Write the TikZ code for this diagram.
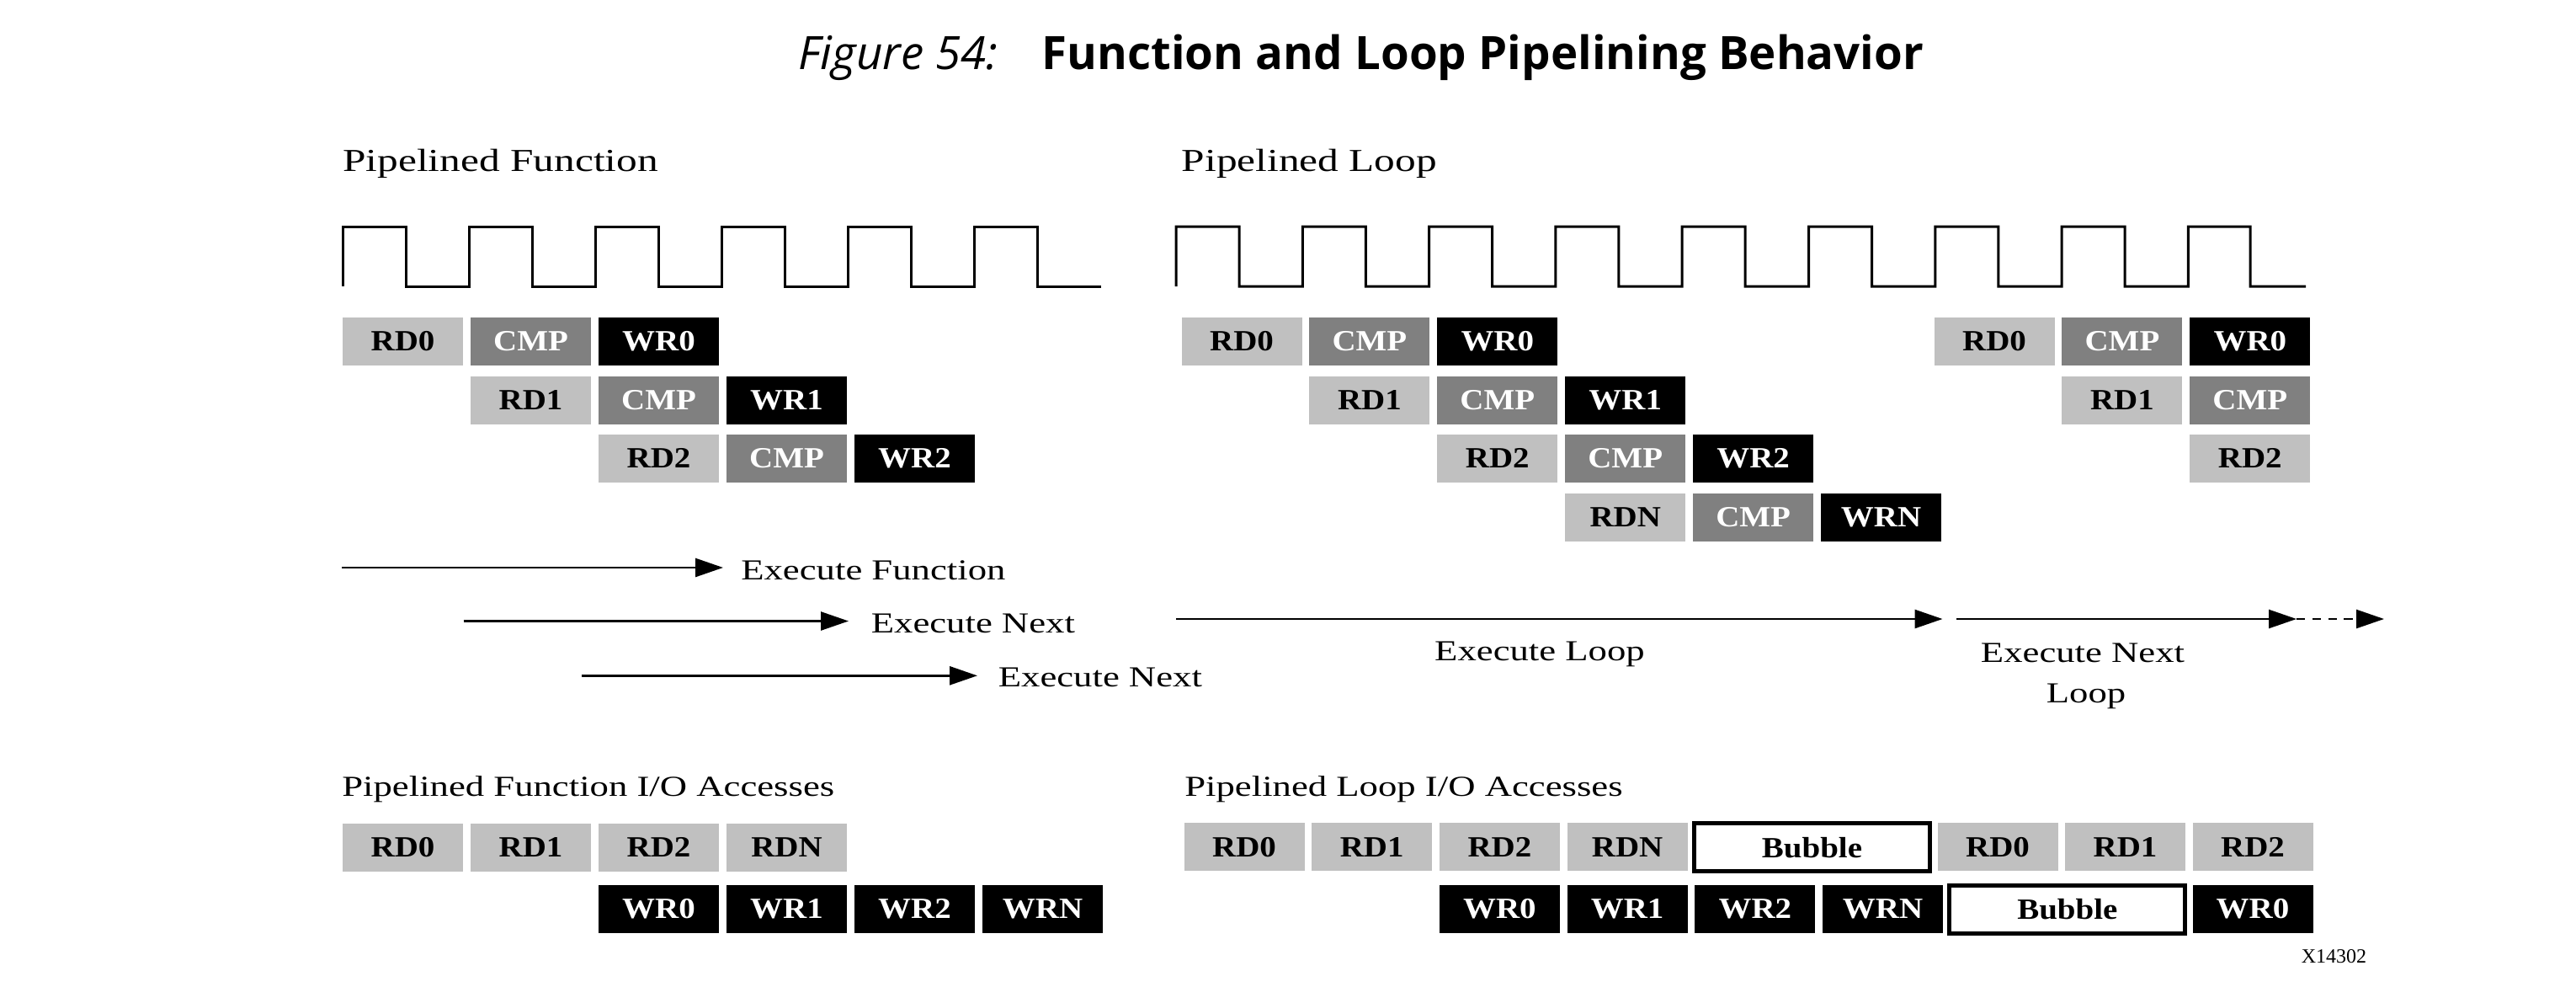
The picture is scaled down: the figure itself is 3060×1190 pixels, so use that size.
\documentclass[tikz,border=0pt]{standalone}
\usepackage{fontspec}
\setmainfont{Liberation Serif}
\newfontfamily\regf[FakeStretch=1.3]{Liberation Serif}
\newfontfamily\lblf[FakeStretch=1.12]{Liberation Serif}
\newfontfamily\plainf{Liberation Serif}
\newfontfamily\ttlf{Open Sans}
\usetikzlibrary{arrows.meta}
\definecolor{lgray}{HTML}{C0C0C0}
\definecolor{mgray}{HTML}{808080}
\begin{document}
\begin{tikzpicture}[x=0.25pt,y=-0.25pt,
  cell/.style={minimum width=35.75pt,minimum height=14.25pt,inner sep=0pt,outer sep=0pt,font=\lblf\bfseries\fontsize{8.7}{10}\selectfont},
  rdbox/.style={cell,fill=lgray,text=black},
  cmpbox/.style={cell,fill=mgray,text=white},
  wrbox/.style={cell,fill=black,text=white},
  bubbox/.style={cell,draw=black,line width=1.25pt,fill=white,minimum width=70pt,minimum height=14.125pt},
  head/.style={anchor=base west,inner sep=0pt,font=\regf\fontsize{9.5}{11}\selectfont},
  subhead/.style={anchor=base west,inner sep=0pt,font=\regf\fontsize{8.6}{10}\selectfont},
  lbl/.style={inner sep=0pt,font=\regf\fontsize{8.6}{10}\selectfont},
  clk/.style={line width=0.75pt,line join=miter},
  arr/.style={line width=0.65pt,-{Triangle[length=8.25pt,width=5.5pt]}},
  dasharr/.style={arr,dash pattern=on 2.6pt off 2.1pt},
]
\useasboundingbox (0,0) rectangle (3060,1190);

% title
\node[anchor=base west,inner sep=0pt,font=\ttlf\itshape\fontsize{13.65}{16}\selectfont] (fig) at (948,82) {Figure 54:};
\node[anchor=base west,inner sep=0pt,font=\ttlf\bfseries\fontsize{13.65}{16}\selectfont] (ttl) at (1237,82) {Function and Loop Pipelining Behavior};

% headings
\node[head] (hpf) at (406.5,203) {Pipelined Function};
\node[head] (hpl) at (1403,203) {Pipelined Loop};

% clocks
\draw[clk] (407.5,340) foreach \k in {0,...,5} { -- ({407.5+150*\k},269) -- ({482+150*\k},269) -- ({482+150*\k},340) -- ({557.5+150*\k},340) };
\draw[clk] (1397,340) foreach \k in {0,...,7} { -- ({1397+150.3*\k},269) -- ({1472+150.3*\k},269) -- ({1472+150.3*\k},340) -- ({1547.3+150.3*\k},340) } -- (2599.4,269) -- (2673,269) -- (2673,340) -- (2739,340);

% pipelined function boxes
\node[rdbox]  (f00) at (478.5,405.5) {RD0};
\node[cmpbox] (f01) at (630.5,405.5) {CMP};
\node[wrbox]  (f02) at (782.5,405.5) {WR0};
\node[rdbox]  (f11) at (630.5,475) {RD1};
\node[cmpbox] (f12) at (782.5,475) {CMP};
\node[wrbox]  (f13) at (934.5,475) {WR1};
\node[rdbox]  (f22) at (782.5,544.5) {RD2};
\node[cmpbox] (f23) at (934.5,544.5) {CMP};
\node[wrbox]  (f24) at (1086.5,544.5) {WR2};

% pipelined loop boxes
\node[rdbox]  (l00) at (1475,405.5) {RD0};
\node[cmpbox] (l01) at (1626.9,405.5) {CMP};
\node[wrbox]  (l02) at (1778.8,405.5) {WR0};
\node[rdbox]  (l11) at (1626.9,475) {RD1};
\node[cmpbox] (l12) at (1778.8,475) {CMP};
\node[wrbox]  (l13) at (1930.7,475) {WR1};
\node[rdbox]  (l22) at (1778.8,544.5) {RD2};
\node[cmpbox] (l23) at (1930.7,544.5) {CMP};
\node[wrbox]  (l24) at (2082.6,544.5) {WR2};
\node[rdbox]  (l33) at (1930.7,614) {RDN};
\node[cmpbox] (l34) at (2082.6,614) {CMP};
\node[wrbox]  (l35) at (2234.5,614) {WRN};
\node[rdbox]  (n00) at (2369,405.5) {RD0};
\node[cmpbox] (n01) at (2520.9,405.5) {CMP};
\node[wrbox]  (n02) at (2672.8,405.5) {WR0};
\node[rdbox]  (n11) at (2520.9,475) {RD1};
\node[cmpbox] (n12) at (2672.8,475) {CMP};
\node[rdbox]  (n22) at (2672.8,544.5) {RD2};

% execute arrows (function)
\coordinate (a1s) at (406,674);   \coordinate (a1e) at (859,674);
\coordinate (a2s) at (550.5,737.5); \coordinate (a2e) at (1008,737.5);
\coordinate (a3s) at (690.8,802.3); \coordinate (a3e) at (1161,802.3);
\draw[arr] (a1s) -- (a1e);
\draw[arr] (a2s) -- (a2e);
\draw[arr] (a3s) -- (a3e);
\node[lbl,anchor=base west] (t1) at (879.5,688) {Execute Function};
\node[lbl,anchor=base west] (t2) at (1034,751) {Execute Next};
\node[lbl,anchor=base west] (t3) at (1185,815.7) {Execute Next};

% execute arrows (loop)
\coordinate (b1s) at (1397,735); \coordinate (b1e) at (2307.5,735);
\coordinate (b2s) at (2324,735); \coordinate (b2e) at (2728,735);
\coordinate (b3e) at (2832,735);
\draw[arr] (b1s) -- (b1e);
\draw[arr] (b2s) -- (b2e);
\draw[dasharr] (b2e) -- (b3e);
\node[lbl,anchor=base] (t4) at (1829,784) {Execute Loop};
\node[lbl,anchor=base] (t5) at (2474,786) {Execute Next};
\node[lbl,anchor=base] (t6) at (2478,834) {Loop};

% I/O headings
\node[subhead] (hfio) at (405.5,945) {Pipelined Function I/O Accesses};
\node[subhead] (hlio) at (1406.5,945) {Pipelined Loop I/O Accesses};

% function I/O
\node[rdbox] (fa0) at (478.5,1006) {RD0};
\node[rdbox] (fa1) at (630.5,1006) {RD1};
\node[rdbox] (fa2) at (782.5,1006) {RD2};
\node[rdbox] (fa3) at (934.5,1006) {RDN};
\node[wrbox] (fb0) at (782.5,1079.5) {WR0};
\node[wrbox] (fb1) at (934.5,1079.5) {WR1};
\node[wrbox] (fb2) at (1086.5,1079.5) {WR2};
\node[wrbox] (fb3) at (1238.5,1079.5) {WRN};

% loop I/O
\node[rdbox] (la0) at (1478,1005.8) {RD0};
\node[rdbox] (la1) at (1629.7,1005.8) {RD1};
\node[rdbox] (la2) at (1781.4,1005.8) {RD2};
\node[rdbox] (la3) at (1933.1,1005.8) {RDN};
\node[bubbox] (la4) at (2152.5,1006.2) {Bubble};
\node[rdbox] (la5) at (2373,1005.8) {RD0};
\node[rdbox] (la6) at (2524.5,1005.8) {RD1};
\node[rdbox] (la7) at (2676,1005.8) {RD2};
\node[wrbox] (lb0) at (1781.4,1079.4) {WR0};
\node[wrbox] (lb1) at (1933.1,1079.4) {WR1};
\node[wrbox] (lb2) at (2084.8,1079.4) {WR2};
\node[wrbox] (lb3) at (2236.5,1079.4) {WRN};
\node[bubbox] (lb4) at (2455.8,1079.8) {Bubble};
\node[wrbox] (lb5) at (2676,1079.4) {WR0};

\node[anchor=base east,inner sep=0pt,font=\plainf\fontsize{6}{7}\selectfont] (xid) at (2812,1143) {X14302};
\end{tikzpicture}
\end{document}
